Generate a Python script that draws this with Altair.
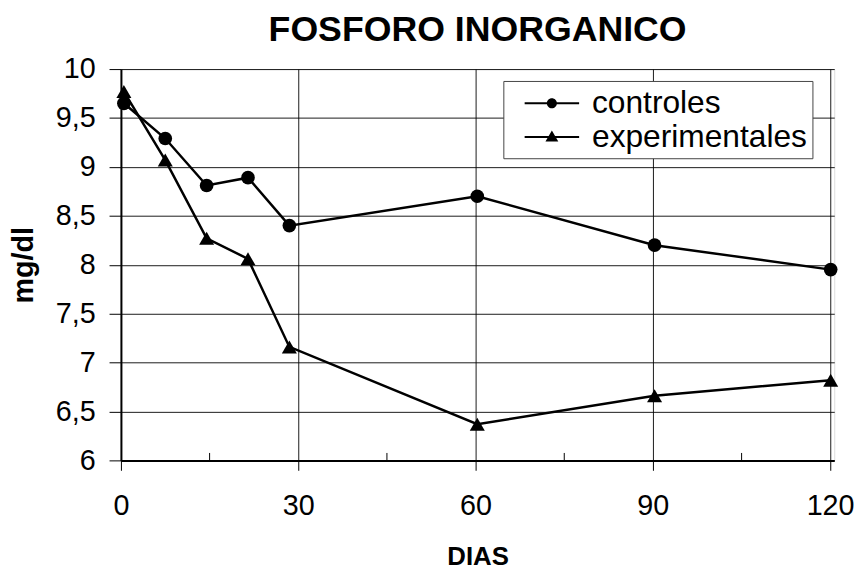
import altair as alt
import pandas as pd

dias = [0.5, 7.5, 14.5, 21.5, 28.5, 60.3, 90.3, 120.1]
controles = [9.65, 9.29, 8.81, 8.89, 8.40, 8.70, 8.20, 7.95]
experimentales = [9.77, 9.07, 8.27, 8.06, 7.16, 6.37, 6.66, 6.82]
series = ["controles", "experimentales"]
x_ticks = [0, 30, 60, 90, 120]
x_minor = [15, 45, 75, 105]
y_ticks = [6, 6.5, 7, 7.5, 8, 8.5, 9, 9.5, 10]

rows = []
for d, c in zip(dias, controles):
    rows.append({"dia": d, "valor": c, "serie": series[0]})
for d, e in zip(dias, experimentales):
    rows.append({"dia": d, "valor": e, "serie": series[1]})
df = pd.DataFrame(rows)

FONT = "Liberation Sans"
W, H = 720, 395

xscale = alt.Scale(domain=[0, 120.7], nice=False, zero=False)
yscale = alt.Scale(domain=[6, 10], nice=False, zero=False)

x_main = alt.X(
    "dia:Q", scale=xscale,
    axis=alt.Axis(
        title="DIAS", values=x_ticks, grid=True, gridColor="#000000", gridOpacity=0.9,
        gridWidth=1, tickSize=10, tickColor="#000000", tickWidth=1,
        labelFontSize=29, labelFont=FONT, labelColor="#000000", labelPadding=22,
        labelFlush=False, labelOverlap=False,
        domainColor="#000000", domainWidth=2,
        titleFont=FONT, titleFontSize=26, titleFontWeight="bold", titleColor="#000000",
        titleBaseline="alphabetic", titleY=105, titleX=W / 2,
    ),
)
y_main = alt.Y(
    "valor:Q", scale=yscale,
    axis=alt.Axis(
        title="mg/dl", values=y_ticks, grid=True, gridColor="#000000", gridOpacity=0.9,
        gridWidth=1, tickSize=12, tickColor="#000000", tickWidth=1,
        labelFontSize=29, labelFont=FONT, labelColor="#000000", labelPadding=14,
        labelExpr="replace(toString(datum.value), '.', ',')",
        labelFlush=False, labelOverlap=False,
        domainColor="#000000", domainWidth=2,
        titleFont=FONT, titleFontSize=29, titleFontWeight="bold", titleColor="#000000",
        titleBaseline="alphabetic", titleAngle=270, titleX=-89, titleY=H / 2,
    ),
)

lines = alt.Chart(df).mark_line(color="black", strokeWidth=2.5).encode(
    x=x_main, y=y_main, detail="serie:N"
)

points = alt.Chart(df).mark_point(filled=True, color="black", opacity=1).encode(
    x=alt.X("dia:Q", scale=xscale, axis=None),
    y=y_main,
    shape=alt.Shape("serie:N", scale=alt.Scale(domain=series, range=["circle", "triangle-up"]), legend=None),
    size=alt.Size("serie:N", scale=alt.Scale(domain=series, range=[190, 230]), legend=None),
)

minor = alt.Chart(df).mark_point(opacity=0, size=1).encode(
    x=alt.X("dia:Q", scale=xscale,
            axis=alt.Axis(values=x_minor, orient="bottom", offset=-8, tickSize=8,
                          tickColor="#000000", tickWidth=1, labels=False, domain=False,
                          grid=False, title=None)),
    y=y_main,
)

# legend symbols: line (thin filled bars) + marker, all subpaths clockwise
t = 0.06
legend_paths = [
    f"M-1.571,-{t}H-0.2V{t}H-1.571Z M0.2,-{t}H1.571V{t}H0.2Z "
    "M-0.29,0A0.29,0.29 0 1,1 0.29,0A0.29,0.29 0 1,1 -0.29,0Z",
    f"M-1.571,-{t}H-0.15V{t}H-1.571Z M0.15,-{t}H1.571V{t}H0.15Z "
    "M0,-0.37L0.37,0.27L-0.37,0.27Z",
]
legend_layer = alt.Chart(df).mark_point(
    filled=True, color="black", opacity=0, size=1225
).encode(
    x=alt.X("dia:Q", scale=xscale, axis=None),
    y=y_main,
    shape=alt.Shape(
        "serie:N",
        scale=alt.Scale(domain=series, range=legend_paths),
        legend=alt.Legend(
            title=None, orient="none", legendX=386, legendY=12,
            labelFont=FONT, labelFontSize=32, labelColor="#000000",
            labelOffset=23, symbolOffset=26.5,
            symbolSize=1225, symbolFillColor="black", symbolOpacity=1,
            symbolStrokeWidth=0,
            strokeColor="#444444", fillColor="white", padding=5,
            rowPadding=0, labelLimit=400,
        ),
    ),
)

chart = (
    alt.layer(lines, points, minor, legend_layer)
    .resolve_scale(shape="independent", size="independent")
    .resolve_axis(x="independent")
    .properties(
        width=W, height=H,
        title=alt.Title("FOSFORO INORGANICO", font=FONT, fontSize=36, fontWeight="bold",
                        color="#000000", anchor="middle", baseline="alphabetic",
                        offset=0, dy=22),
        autosize=alt.AutoSizeParams(type="none"),
        padding={"left": 114, "top": 59, "right": 24, "bottom": 109},
    )
    .configure_view(stroke="black", strokeWidth=2)
    .configure(background="white")
)

chart.save("out.html", embed_options={"renderer": "svg", "actions": False})
